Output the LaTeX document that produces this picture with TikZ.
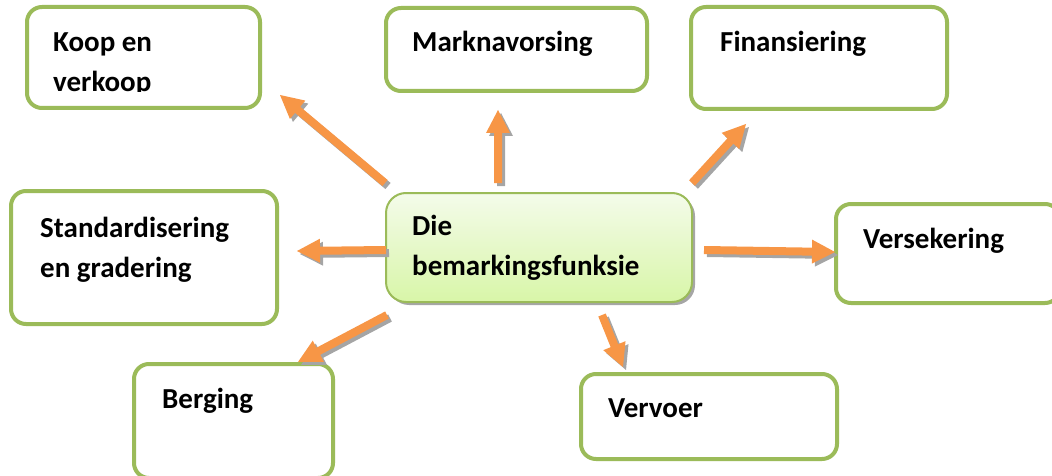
\documentclass[tikz,border=0pt]{standalone}
\usepackage{fontspec}
\setmainfont{Carlito}
\usetikzlibrary{calc,shadows}

\definecolor{boxgreen}{HTML}{9BBB59}
\definecolor{arroworange}{HTML}{F79646}
\definecolor{arrowgray}{HTML}{A5A5A5}
\definecolor{hubtop}{HTML}{F4FBEA}
\definecolor{hubbottom}{HTML}{D8F6A8}

\tikzset{
  box/.style={draw=boxgreen, line width=4pt, rounded corners=15pt, fill=white, inner sep=0pt},
  hub/.style={draw=boxgreen, line width=2pt, rounded corners=20pt, inner sep=0pt,
    top color=hubtop, bottom color=hubbottom,
    drop shadow={shadow xshift=3pt, shadow yshift=-3pt, fill=black, opacity=0.35}},
  label/.style={anchor=base west, inner sep=0pt, align=left,
    font=\fontsize{29}{40}\selectfont\bfseries},
  arrowbody/.style={fill=arroworange},
  arrowshade/.style={fill=arrowgray, transform canvas={xshift=3pt, yshift=-3pt}},
}

% block arrow from #1 to #2: shaft 8, head 24 wide and 23 long
\newcommand\blockarrow[2]{%
  \path ($(#2)!23pt!(#1)$) coordinate (hb);
  \foreach \sty in {arrowshade,arrowbody}{
    \fill[\sty] ($(#1)!4pt!90:(#2)$) -- ($(hb)!4pt!90:(#2)$) -- ($(hb)!12pt!90:(#2)$)
      -- (#2) -- ($(hb)!12pt!-90:(#2)$) -- ($(hb)!4pt!-90:(#2)$)
      -- ($(#1)!4pt!-90:(#2)$) -- cycle;
  }%
}

\begin{document}
\begin{tikzpicture}[x=1pt, y=-1pt]
  \useasboundingbox (0,0) rectangle (1052,476);

  % outer boxes
  \node[box, minimum width=233pt, minimum height=101pt] (koop) at (143.5,57.5) {};
  \node[box, minimum width=261pt, minimum height=83pt]  (mark) at (516.5,49.5) {};
  \node[box, minimum width=256pt, minimum height=102pt] (fin)  at (819,58) {};
  \node[box, minimum width=266pt, minimum height=133pt] (std)  at (144,257.5) {};
  \node[box, minimum width=224pt, minimum height=99pt]  (vers) at (948,253.5) {};
  \node[box, minimum width=199pt, minimum height=114pt] (berg) at (233.5,421) {};
  \node[box, minimum width=256pt, minimum height=85pt]  (verv) at (709,416.5) {};

  % central box
  \node[hub, minimum width=306pt, minimum height=109pt] (hubbox) at (539,247.5) {};

  % labels (for two-line labels the base anchor sits on the last line)
  \begin{scope}
    \clip (0,0) rectangle (1052,92);
    \node[label] (koopT) at (53,92) {Koop en\\verkoop};
  \end{scope}
  \node[label] (markT) at (412,52)  {Marknavorsing};
  \node[label] (finT)  at (720,52)  {Finansiering};
  \node[label] (stdT)  at (40,277)  {Standardisering\\en gradering};
  \node[label] (hubT)  at (412,275) {Die\\bemarkingsfunksie};
  \node[label] (versT) at (863,248) {Versekering};
  \node[label] (bergT) at (162,408) {Berging};
  \node[label] (vervT) at (608,417) {Vervoer};

  % arrow end points
  \coordinate (kS) at (385,183); \coordinate (kE) at (280,95);
  \coordinate (mS) at (498,183); \coordinate (mE) at (498,110);
  \coordinate (fS) at (692,183); \coordinate (fE) at (746,124);
  \coordinate (sS) at (386,250); \coordinate (sE) at (297,251);
  \coordinate (vS) at (704,250); \coordinate (vE) at (835,252);
  \coordinate (bS) at (387,315); \coordinate (bE) at (298,362);
  \coordinate (tS) at (602,315); \coordinate (tE) at (623,367);

  \blockarrow{kS}{kE}
  \blockarrow{mS}{mE}
  \blockarrow{fS}{fE}
  \blockarrow{sS}{sE}
  \blockarrow{vS}{vE}
  \blockarrow{bS}{bE}
  \blockarrow{tS}{tE}
\end{tikzpicture}
\end{document}
